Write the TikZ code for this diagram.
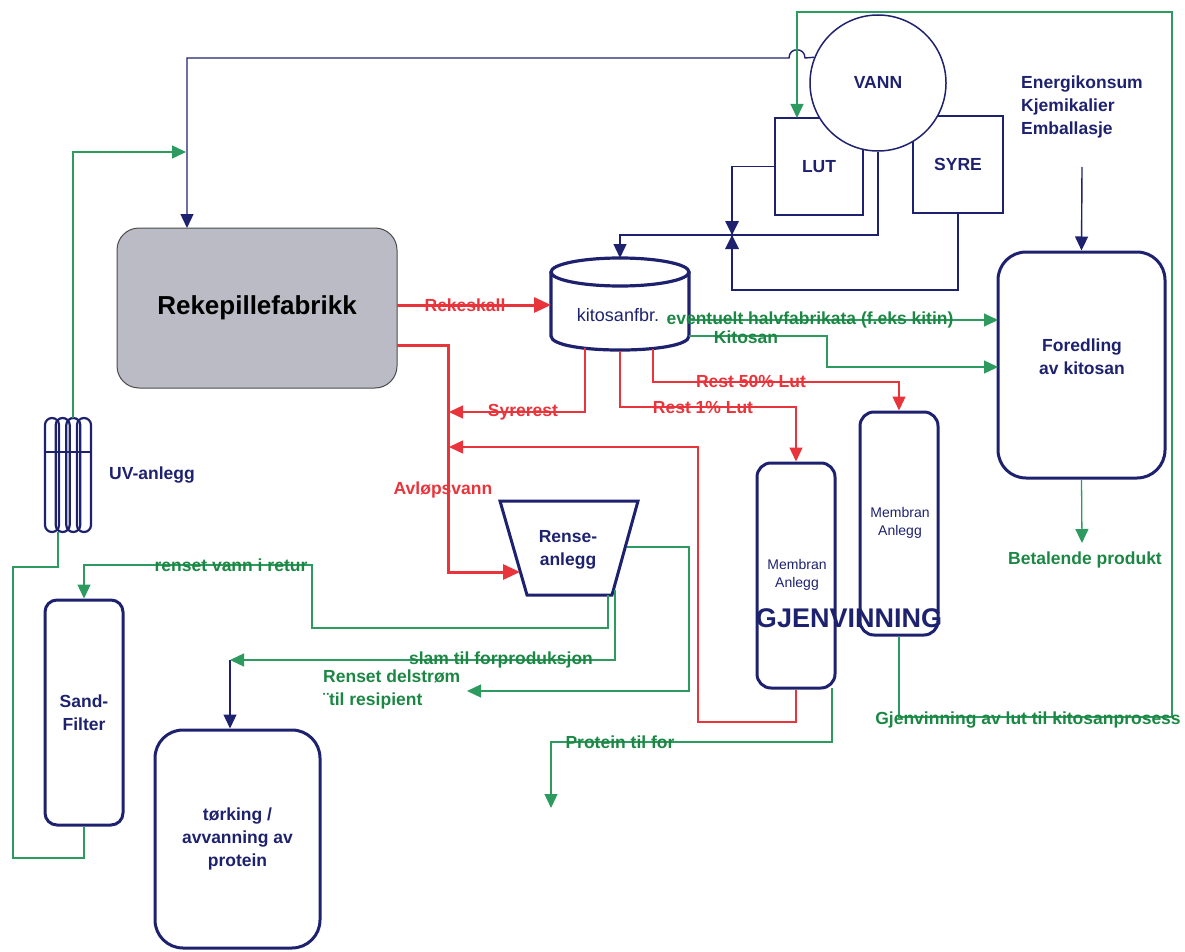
\documentclass[tikz,border=0pt]{standalone}
\usepackage{fontspec}
\setmainfont{Liberation Sans}
\usetikzlibrary{arrows.meta}
\definecolor{navy}{RGB}{30,34,110}
\definecolor{grn}{RGB}{28,135,68}
\definecolor{grnl}{RGB}{45,155,95}
\definecolor{red1}{RGB}{232,52,58}
\definecolor{rekegray}{RGB}{186,187,196}
\begin{document}
\begin{tikzpicture}[x=1pt,y=-1pt,
  nl/.style={draw=navy, line width=1.4pt},
  gl/.style={draw=grnl, line width=1.3pt},
  rl/.style={draw=red1, line width=1.3pt},
  rlt/.style={draw=red1, line width=3pt},
  tip/.style={-{Triangle[length=14pt,width=13pt]}},
  tipbig/.style={-{Triangle[length=17pt,width=15pt]}},
  lab/.style={font=\fontsize{17.5}{23}\selectfont\bfseries, inner sep=0pt},
  glab/.style={lab, text=grn},
  rlab/.style={lab, text=red1},
  nlab/.style={lab, text=navy},
  box/.style={draw=navy, line width=3pt, rounded corners=14pt, inner sep=0pt, align=center, text=navy, font=\fontsize{17.5}{23}\selectfont\bfseries},
  thinbox/.style={draw=navy, line width=1.5pt, inner sep=0pt, text=navy, font=\fontsize{17.5}{23}\selectfont\bfseries},
  memtxt/.style={font=\fontsize{14}{18}\selectfont, text=navy, align=center, inner sep=0pt}
]
\useasboundingbox (0,0) rectangle (1185,952);

% ---------- coordinates ----------
\coordinate (valve) at (732,235);
\coordinate (kittop) at (620,258);
\coordinate (rekein) at (187,228);
\coordinate (lutin) at (797,118);
\coordinate (enarr) at (1082,167);
\coordinate (slamend) at (230,660);
\coordinate (rtl) at (500,501);
\coordinate (rtr) at (638,501);
\coordinate (rbr) at (612,595);
\coordinate (rbl) at (527,595);

% ---------- boxes ----------
\node[box, draw=gray!60!black, line width=1pt, fill=rekegray, rounded corners=22pt, minimum width=280pt, minimum height=160pt, text=black, font=\fontsize{26}{30}\selectfont\bfseries] (reke) at (257,308) {Rekepillefabrikk};
\node[thinbox, minimum width=88pt, minimum height=97pt] (lut) at (819,166.5) {LUT};
\node[thinbox, minimum width=90pt, minimum height=97pt] (syre) at (958,164.5) {SYRE};
\node[thinbox, circle, fill=white, minimum size=136pt] (vann) at (878,83) {};
\node[nlab] (vannlab) at (878,82) {VANN};

\node[box, minimum width=78pt, minimum height=225pt] (mem1) at (796,575.5) {};
\node[memtxt] (mem1lab) at (797,575) {Membran\\Anlegg};
\node[box, minimum width=78pt, minimum height=223pt] (mem2) at (899,523.5) {};
\node[memtxt] (mem2lab) at (900,523) {Membran\\Anlegg};
\node[lab, text=navy, font=\fontsize{27}{30}\selectfont\bfseries] (gjen) at (849,618) {GJENVINNING};

\node[box, rounded corners=28pt, minimum width=167pt, minimum height=226pt] (fored) at (1081.5,365) {};
\node[nlab, align=center] (foredlab) at (1082,357) {Foredling\\av kitosan};
\node[nlab, align=left, anchor=north west] (energi) at (1021,76) {Energikonsum\\Kjemikalier\\Emballasje};

\node[box, rounded corners=12pt, minimum width=78pt, minimum height=225pt] (sand) at (84,712.5) {Sand-\\Filter};
\node[box, rounded corners=28pt, minimum width=165pt, minimum height=218pt] (tork) at (237.5,839) {tørking /\\avvanning av\\protein};

% UV-anlegg
\node[minimum width=46pt, minimum height=114pt, inner sep=0pt] (uv) at (68,475) {};
\foreach \cx in {52,62.7,73.3,84}{
  \draw[navy, line width=2.2pt, rounded corners=7pt] (\cx-7,418) rectangle (\cx+7,532);
}
\draw[navy, line width=1.6pt] (45,452) -- (91,452);
\node[nlab] (uvlab) at (152,475) {UV-anlegg};

% kitosanfbr cylinder
\node[minimum width=138pt, minimum height=92pt, inner sep=0pt] (kit) at (620,304) {};
\draw[navy, line width=3.2pt] (620,272) ellipse [x radius=69pt, y radius=14pt];
\draw[navy, line width=3.2pt] (551,272) -- (551,336) .. controls (551,354.7) and (689,354.7) .. (689,336) -- (689,272);
\node[lab, font=\fontsize{18}{22}\selectfont, text=navy] (kitlab) at (618,315) {kitosanfbr.};

% Renseanlegg
\draw[navy, line width=3pt] (rtl) -- (rtr) -- (rbr) -- (rbl) -- cycle;
\node[nlab, align=center] (rense) at (568,550) {Rense-\\anlegg};

% ---------- navy connectors ----------
\draw[nl, tip] (vann.158) -- (805,58) .. controls (805,47) and (789,47) .. (789,58) -- (187,58) -- (rekein);
\draw[nl, tip] (enarr) -- (fored.north);
\draw[nl] (lut.west) -| (valve);
\draw[nl] (syre.south) -- (958,290) -| (valve);
\draw[nl] (vann.south) |- (valve);
\draw[nl, tip] (valve) -| (kittop);
\fill[navy] (725,221) -- (739,221) -- (valve) -- cycle;
\fill[navy] (725,249) -- (739,249) -- (valve) -- cycle;
\draw[nl, tip] (slamend) -- (tork.north -| slamend);

% ---------- green connectors ----------
\draw[gl, tip] (mem2.south) -- (899,717) -- (1172,717) -- (1172,12) -- (797,12) -- (lutin);
\node[glab] (gjvlab) at (1028,720) {Gjenvinning av lut til kitosanprosess};
\draw[gl, tip] (73,418) -- (73,152) -- (186,152);
\draw[gl] (sand.south) -- (84,858) -- (13,858) -- (13,567) -- (58,567) -- (58,532);
\draw[gl, tip] (608,595) -- (608,628) -- (312,628) -- (312,565) -- (84,565) -- (sand.north);
\node[glab] (retlab) at (231,565) {renset vann i retur};
\draw[gl, tip] (615,590) -- (615,660) -- (slamend);
\node[glab] (slamlab) at (501,660) {slam til forproduksjon};
\draw[gl, tip] (627,547) -- (689,547) -- (689,691) -- (467,691);
\node[glab, align=left, anchor=north west] (delstrom) at (323,670) {Renset delstrøm\\¨til resipient};
\draw[gl, tip] (689,320) -- (998,320);
\node[glab] (halvlab) at (810,320) {eventuelt halvfabrikata (f.eks kitin)};
\draw[gl, tip] (689,336) -- (827,336) -- (827,367) -- (998,367);
\node[glab] (kitosanlab) at (746,337) {Kitosan};
\draw[gl, tip] (fored.south) -- (1082,543);
\node[glab] (betlab) at (1085,560) {Betalende produkt};
\draw[gl, tip] (832,688) -- (832,742) -- (551,742) -- (551,808);
\node[glab] (protlab) at (620,742) {Protein til for};

% ---------- red connectors ----------
\draw[rlt, tipbig] (397,305) -- (551,305);
\node[rlab] (rekeskall) at (465,305) {Rekeskall};
\draw[rlt, tipbig] (397,345) -- (448,345) -- (448,572) -- (520,572);
\node[rlab] (avlop) at (443,490) {Avløpsvann};
\draw[rl, tip] (585,348) -- (585,412) -- (449,412);
\node[rlab] (syrerest) at (523,412) {Syrerest};
\draw[rl, tip] (mem1.south) -- (796,722) -- (698,722) -- (698,447) -- (449,447);
\draw[rl, tip] (653,349) -- (653,382) -- (899,382) -- (mem2.north);
\node[rlab] (r50) at (751,381) {Rest 50\% Lut};
\draw[rl, tip] (620,351) -- (620,407) -- (796,407) -- (mem1.north);
\node[rlab] (r1) at (703,407) {Rest 1\% Lut};
\end{tikzpicture}
\end{document}
